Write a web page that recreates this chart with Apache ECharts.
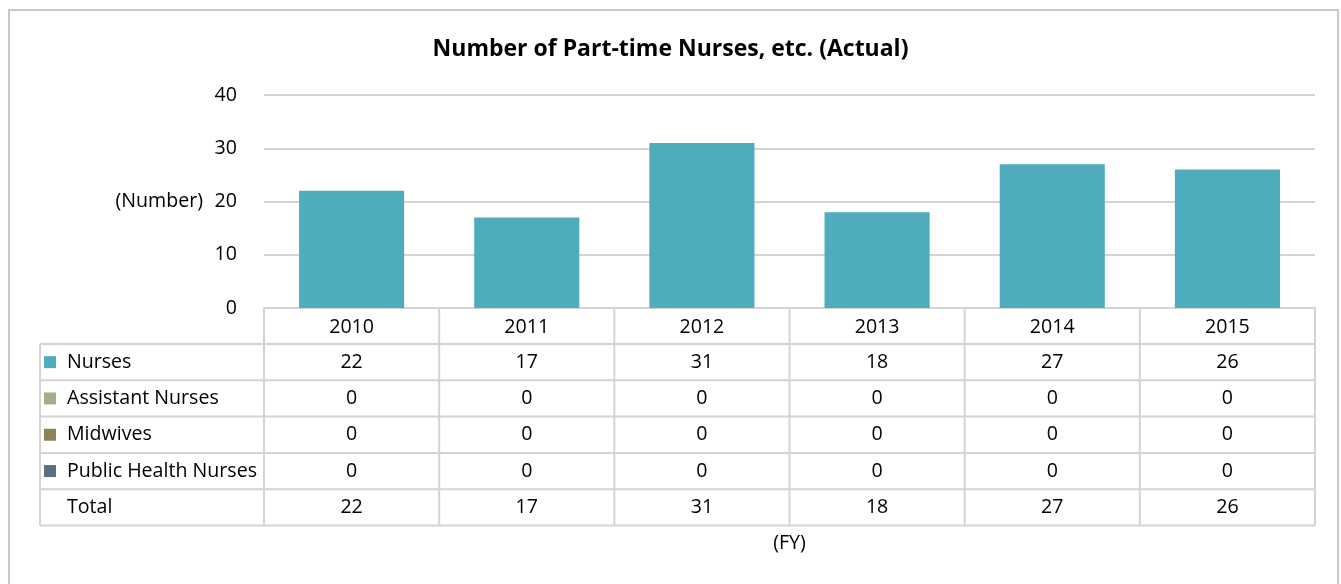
<!DOCTYPE html>
<html>
<head>
<meta charset="utf-8">
<script src="https://cdn.jsdelivr.net/npm/echarts@6/dist/echarts.min.js"></script>
<style>
  html, body { margin: 0; padding: 0; background: #fff; }
  #chart { width: 1341px; height: 584px; }
</style>
</head>
<body>
<div id="chart"></div>
<script>
// data
const years = ['2010', '2011', '2012', '2013', '2014', '2015']
const nurses = [22, 17, 31, 18, 27, 26]
const assistantNurses = [0, 0, 0, 0, 0, 0]
const midwives = [0, 0, 0, 0, 0, 0]
const publicHealthNurses = [0, 0, 0, 0, 0, 0]
const totals = [22, 17, 31, 18, 27, 26]
const yTicks = [0, 10, 20, 30, 40]

const rowNames = ['Nurses', 'Assistant Nurses', 'Midwives', 'Public Health Nurses', 'Total']
const rowColors = ['#4facbd', '#9fb08a', '#8c8459', '#5d6e80', null]

const FONT = 'Open Sans'
const FS = 19.6
const lineColor = '#d4d4d4'

const chart = echarts.init(document.getElementById('chart'))

const makeSeries = (name, data, color) => ({
  name: name,
  type: 'bar',
  stack: 'total',
  barCategoryGap: '40%',
  itemStyle: { color: color },
  data: data
})

chart.setOption({
  animation: false,
  textStyle: { fontFamily: FONT },
  title: {
    text: 'Number of Part-time Nurses, etc. (Actual)',
    left: 'center',
    top: 33,
    textStyle: { fontFamily: FONT, fontSize: 23, fontWeight: 'bold', color: '#000' }
  },
  grid: {
    left: 264,
    right: 26,
    top: 95,
    height: 213
  },
  xAxis: {
    type: 'category',
    data: years,
    name: '(FY)',
    nameLocation: 'middle',
    nameGap: 225,
    nameTextStyle: { fontFamily: FONT, fontSize: FS, color: '#000' },
    axisLine: { lineStyle: { color: lineColor, width: 2 } },
    axisTick: { show: false },
    axisLabel: { fontFamily: FONT, fontSize: FS, color: '#000', margin: 9 }
  },
  yAxis: {
    type: 'value',
    min: yTicks[0],
    max: yTicks[yTicks.length - 1],
    interval: yTicks[1] - yTicks[0],
    name: '(Number)',
    nameLocation: 'middle',
    nameRotate: 0,
    nameGap: 61,
    nameTextStyle: { fontFamily: FONT, fontSize: FS, color: '#000', padding: [8, 0, 0, 0] },
    axisLine: { show: false },
    axisTick: { show: false },
    axisLabel: { fontFamily: FONT, fontSize: FS, color: '#000', margin: 27, padding: [8, 0, 0, 0] },
    splitLine: { lineStyle: { color: lineColor, width: 2 } }
  },
  series: [
    makeSeries(rowNames[0], nurses, rowColors[0]),
    makeSeries(rowNames[1], assistantNurses, rowColors[1]),
    makeSeries(rowNames[2], midwives, rowColors[2]),
    makeSeries(rowNames[3], publicHealthNurses, rowColors[3])
  ]
})

// data table under the axis, laid out from the axis positions
function buildTable() {
  const tableRows = [nurses, assistantNurses, midwives, publicHealthNurses, totals]
  const xs = years.map(y => chart.convertToPixel({ xAxisIndex: 0 }, y))
  const band = xs[1] - xs[0]
  const left = xs[0] - band / 2
  const right = xs[xs.length - 1] + band / 2
  const top = chart.convertToPixel({ yAxisIndex: 0 }, 0)
  const headH = 36
  const rowH = 36.3
  const tableLeft = 40
  const bodyTop = top + headH
  const bottom = bodyTop + rowH * tableRows.length
  const els = []
  const line = (x1, y1, x2, y2) => els.push({
    type: 'line',
    shape: { x1, y1, x2, y2 },
    style: { stroke: lineColor, lineWidth: 2 }
  })

  // outer frame of the chart
  els.push({
    type: 'rect',
    shape: { x: 9, y: 10, width: 1329, height: 620 },
    style: { fill: null, stroke: '#c8c8c8', lineWidth: 2 }
  })

  // horizontal rules
  for (let i = 0; i <= tableRows.length; i++) {
    line(tableLeft, bodyTop + rowH * i, right, bodyTop + rowH * i)
  }
  // vertical rules
  line(tableLeft, bodyTop, tableLeft, bottom)
  for (let j = 0; j <= years.length; j++) {
    const x = left + band * j
    line(x, top, x, bottom)
  }

  tableRows.forEach((row, i) => {
    const cy = bodyTop + rowH * i + rowH / 2
    if (rowColors[i]) {
      els.push({
        type: 'rect',
        shape: { x: 44, y: cy - 6, width: 12, height: 12 },
        style: { fill: rowColors[i] }
      })
    }
    els.push({
      type: 'text',
      x: 67,
      y: cy,
      style: { text: rowNames[i], fontFamily: FONT, fontSize: FS, fill: '#000', verticalAlign: 'middle', align: 'left' }
    })
    row.forEach((v, j) => {
      els.push({
        type: 'text',
        x: xs[j],
        y: cy,
        style: { text: String(v), fontFamily: FONT, fontSize: FS, fill: '#000', verticalAlign: 'middle', align: 'center' }
      })
    })
  })

  chart.setOption({ graphic: els })
}

buildTable()
</script>
</body>
</html>
